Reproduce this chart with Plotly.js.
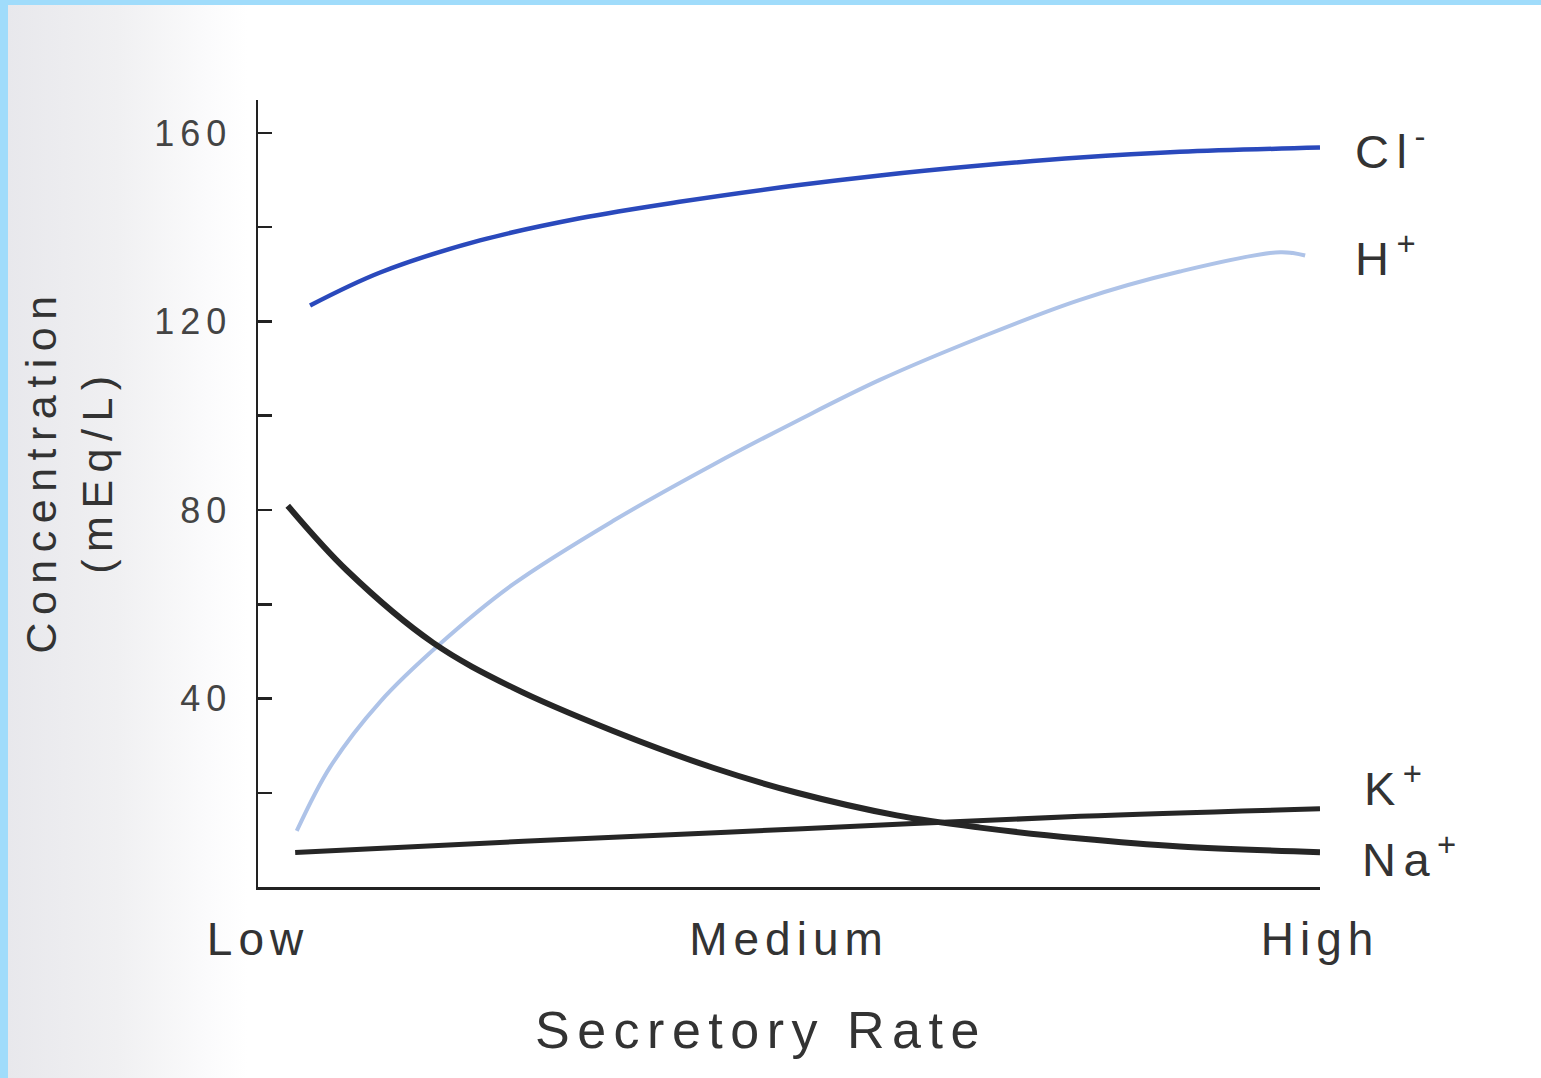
<!DOCTYPE html>
<html>
<head>
<meta charset="utf-8">
<script src="https://cdn.plot.ly/plotly-3.0.1.min.js"></script>
<style>
  html, body { margin: 0; padding: 0; background: #a0dcfb; width: 1541px; height: 1078px; overflow: hidden; }
  #wrap { position: absolute; left: 8px; top: 5px; width: 1533px; height: 1073px;
          background: linear-gradient(to right, #e8e8ec 0px, #f0f0f2 110px, #fbfbfc 200px, #ffffff 240px, #ffffff 100%); }
  #chart { width: 1533px; height: 1073px; }
  .xtick text { letter-spacing: 6px; }
  .ytick text { letter-spacing: 6px; }
  .annotation-text { letter-spacing: 7.5px; }
</style>
</head>
<body>
<div id="wrap"><div id="chart"></div></div>
<script>
// Secretory rate positions (0 = Low, 1 = Medium, 2 = High)
const rateTickVals = [0, 1, 2];
const rateTickText = ["Low", "Medium", "High"];

const rateCl = [0.098, 0.230, 0.418, 0.606, 0.794, 1.015, 1.171, 1.360, 1.548, 1.736, 2.0];
const cl     = [123.4, 130.4, 137.2, 141.9, 145.4, 148.9, 151.0, 153.1, 154.8, 156.0, 156.9];

const rateH = [0.073, 0.136, 0.230, 0.343, 0.480, 0.669, 0.857, 1.015, 1.171, 1.360, 1.548, 1.736, 1.925, 1.972];
const h     = [11.9, 25.5, 39.3, 51.6, 64.2, 77.7, 89.6, 98.9, 107.6, 116.6, 124.6, 130.6, 134.7, 134.0];

const rateNa = [0.056, 0.168, 0.330, 0.480, 0.669, 0.857, 1.015, 1.203, 1.360, 1.548, 1.736, 2.0];
const na     = [80.9, 67.1, 51.8, 42.3, 33.1, 25.3, 20.0, 15.2, 12.6, 10.3, 8.6, 7.4];

const rateK = [0.070, 0.5, 1.015, 1.548, 2.0];
const k     = [7.3, 9.7, 12.3, 15.0, 16.6];

const concTickVals = [40, 80, 120, 160];
const concTickText = ["40", "80", "120", "160"];
const concMinorTicks = [20, 60, 100, 140];

const ionLabels = ["Cl<sup>-</sup>", "H<sup>+</sup>", "K<sup>+</sup>", "Na<sup>+</sup>"];

const FONT = "Liberation Sans, Arial, sans-serif";

const traces = [
  { x: rateH, y: h, mode: "lines", line: { color: "#aec3e8", width: 4, shape: "spline", smoothing: 1 }, name: "H+" },
  { x: rateCl, y: cl, mode: "lines", line: { color: "#2a49bc", width: 4.5, shape: "spline", smoothing: 1 }, name: "Cl-" },
  { x: rateK, y: k, mode: "lines", line: { color: "#262626", width: 5, shape: "spline", smoothing: 1 }, name: "K+" },
  { x: rateNa, y: na, mode: "lines", line: { color: "#262626", width: 6, shape: "spline", smoothing: 1 }, name: "Na+" }
];

const layout = {
  width: 1533, height: 1073,
  margin: { l: 250, r: 221, t: 95, b: 191 },
  paper_bgcolor: "rgba(0,0,0,0)",
  plot_bgcolor: "rgba(0,0,0,0)",
  showlegend: false,
  font: { family: FONT, color: "#333" },
  xaxis: {
    range: [0, 2],
    tickvals: rateTickVals, ticktext: rateTickText,
    showgrid: false, zeroline: false,
    showline: true, linecolor: "#222", linewidth: 2.5,
    ticks: "", ticklabelstandoff: 10,
    tickfont: { size: 46, color: "#333", family: FONT }
  },
  yaxis: {
    range: [0, 167],
    tickvals: concTickVals, ticktext: concTickText,
    showgrid: false, zeroline: false,
    showline: true, linecolor: "#222", linewidth: 2.5,
    ticks: "inside", ticklen: 14, tickwidth: 2.5, tickcolor: "#222",
    minor: { tickvals: concMinorTicks, ticks: "inside", ticklen: 14, tickwidth: 2.5, tickcolor: "#222", showgrid: false },
    ticklabelstandoff: 16,
    tickfont: { size: 36, color: "#444", family: FONT }
  },
  annotations: [
    { xref: "paper", yref: "paper", x: 0.474, y: -0.182, text: "Secretory Rate", showarrow: false,
      xanchor: "center", yanchor: "middle", font: { size: 52, color: "#333", family: FONT } },
    { xref: "paper", yref: "paper", x: -0.178, y: 0.529, text: "Concentration<br>(mEq/L)", showarrow: false,
      textangle: -90, xanchor: "center", yanchor: "middle", font: { size: 43, color: "#333", family: FONT } },
    { xref: "paper", yref: "paper", x: 1.031, y: 0.939, text: ionLabels[0], showarrow: false,
      xanchor: "left", yanchor: "middle", font: { size: 47, color: "#333", family: FONT } },
    { xref: "paper", yref: "paper", x: 1.031, y: 0.803, text: ionLabels[1], showarrow: false,
      xanchor: "left", yanchor: "middle", font: { size: 47, color: "#333", family: FONT } },
    { xref: "paper", yref: "paper", x: 1.040, y: 0.130, text: ionLabels[2], showarrow: false,
      xanchor: "left", yanchor: "middle", font: { size: 47, color: "#333", family: FONT } },
    { xref: "paper", yref: "paper", x: 1.038, y: 0.040, text: ionLabels[3], showarrow: false,
      xanchor: "left", yanchor: "middle", font: { size: 47, color: "#333", family: FONT } }
  ]
};

Plotly.newPlot("chart", traces, layout, { displayModeBar: false, staticPlot: true });
</script>
</body>
</html>
